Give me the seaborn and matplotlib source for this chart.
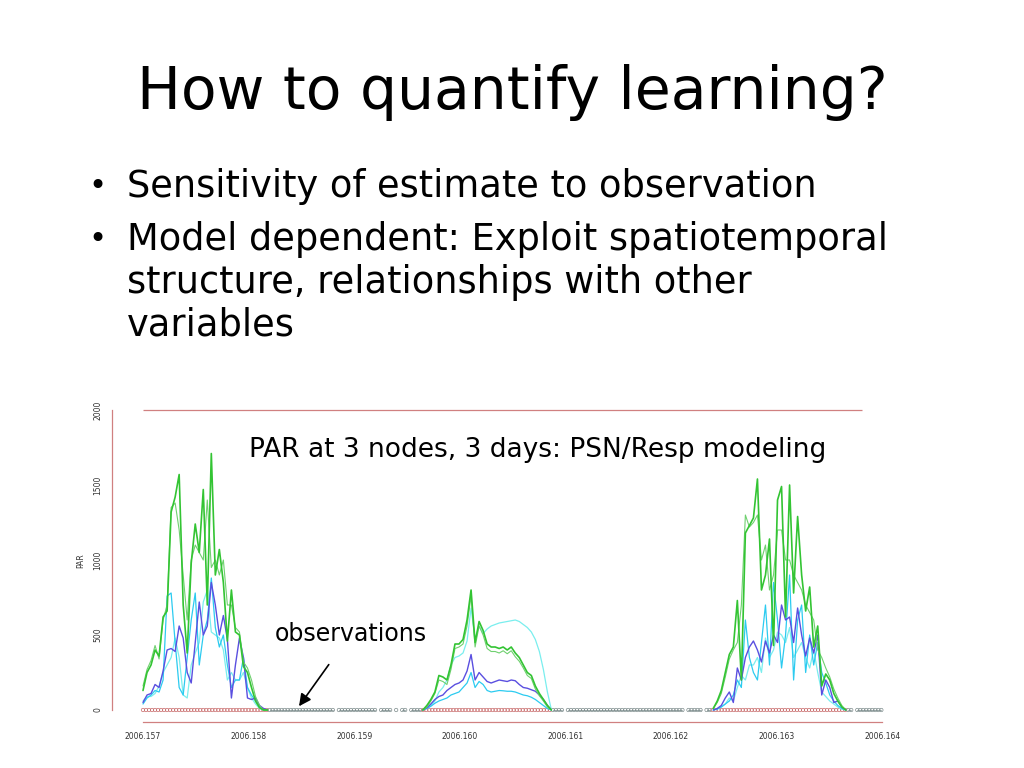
"""Slide: How to quantify learning? -- PAR at 3 nodes over 3 days."""
import matplotlib
matplotlib.use("Agg")
import matplotlib.pyplot as plt
import numpy as np
import pandas as pd
import seaborn as sns

# ---- data ----
STEP = 1 / (365 * 72)          # 20 min, in decimal years
OBS_STEP = 1 / (365 * 96)      # 15 min
DAY_START = [2006.157, 2006.15965, 2006.1624]

G1 = [
    [130, 250, 300, 400, 360, 620, 660, 1320, 1420, 1570, 700, 380, 980, 1240, 1050, 1470,
     700, 1710, 900, 1070, 850, 460, 800, 520, 500, 290, 250, 150, 60, 15, 0, 0],
    [0, 30, 70, 120, 230, 220, 200, 300, 440, 440, 470, 600, 800, 450, 590, 530, 440,
     420, 420, 410, 420, 400, 420, 380, 350, 300, 250, 230, 160, 110, 70, 30, 0],
    [10, 60, 130, 250, 370, 420, 730, 200, 1180, 1230, 1280, 1540, 800, 900, 1140, 430,
     1400, 1490, 620, 1500, 780, 1290, 900, 660, 820, 420, 560, 160, 240, 200, 110, 60, 20, 0],
]
G2 = [
    [160, 270, 330, 430, 340, 600, 700, 1350, 1380, 1200, 900, 600, 1000, 1100, 1050, 1000,
     1400, 950, 1000, 900, 1000, 700, 700, 550, 520, 320, 280, 200, 90, 30, 0, 0],
    [0, 20, 60, 110, 200, 190, 170, 270, 410, 420, 440, 560, 760, 420, 560, 500, 410,
     390, 390, 380, 395, 375, 395, 355, 325, 280, 230, 210, 140, 95, 60, 20, 0],
    [10, 50, 110, 220, 340, 400, 450, 700, 1300, 1220, 1250, 1300, 1000, 1100, 800, 900,
     1200, 1200, 1000, 1000, 900, 850, 800, 700, 650, 600, 400, 350, 280, 220, 140, 80, 30, 0],
]
BLUE = [
    [50, 100, 110, 170, 150, 260, 400, 410, 390, 560, 480, 250, 180, 450, 720, 500,
     560, 850, 700, 500, 630, 470, 80, 300, 480, 350, 80, 70, 80, 30, 10, 0],
    [0, 15, 40, 70, 90, 100, 130, 150, 170, 180, 200, 260, 370, 200, 250, 220, 190,
     180, 190, 200, 195, 190, 200, 195, 170, 150, 145, 135, 125, 100, 70, 30, 0],
    [0, 10, 30, 80, 120, 50, 280, 200, 350, 420, 460, 400, 320, 460, 380, 500, 450,
     700, 600, 620, 450, 680, 500, 360, 480, 380, 500, 100, 200, 150, 50, 60, 20, 0],
]
CYAN1 = [
    [40, 80, 100, 130, 120, 200, 760, 780, 450, 150, 100, 350, 600, 780, 300, 500,
     600, 880, 550, 420, 500, 300, 150, 200, 200, 350, 150, 100, 60, 20, 0, 0],
    [0, 10, 25, 45, 60, 70, 80, 100, 110, 120, 150, 180, 250, 150, 190, 170, 130,
     120, 125, 130, 128, 125, 125, 120, 110, 100, 95, 85, 70, 50, 30, 10, 0],
    [0, 5, 20, 40, 60, 100, 200, 150, 600, 350, 250, 200, 450, 700, 300, 850, 600,
     280, 500, 900, 200, 600, 700, 250, 500, 300, 450, 250, 180, 100, 60, 30, 10, 0],
]
CYAN2 = [
    [60, 90, 90, 110, 160, 250, 300, 350, 480, 350, 100, 80, 300, 380, 450, 720,
     800, 520, 500, 480, 400, 200, 250, 200, 200, 250, 150, 80, 40, 10, 0, 0],
    [0, 10, 30, 60, 120, 150, 200, 300, 350, 360, 380, 460, 680, 470, 560, 510, 540,
     560, 570, 580, 585, 590, 595, 600, 590, 570, 550, 520, 470, 390, 270, 120, 0],
    [0, 10, 20, 40, 80, 60, 150, 230, 200, 300, 300, 350, 250, 480, 350, 400, 520,
     500, 450, 550, 350, 400, 450, 350, 280, 400, 250, 120, 90, 60, 40, 20, 5, 0],
]
SERIES = {"cyan2": CYAN2, "cyan1": CYAN1, "blue": BLUE, "g2": G2, "g1": G1}
COLORS = {"cyan2": "#7aeeee", "cyan1": "#2ccbf0", "blue": "#5a4fe0",
          "g2": "#6fd06f", "g1": "#33c433"}
WIDTHS = {"cyan2": 0.9, "cyan1": 0.9, "blue": 1.0, "g2": 0.8, "g1": 1.2}

OBS_RANGE = (2006.157, 2006.164)
OBS_MISSING = [2006.158818, 2006.159225, 2006.159358, 2006.159434, 2006.159500,
               2006.160996, 2006.162133, 2006.162303, 2006.163723]
TOP_LINE = (2000, 2006.157, 2006.16381)

XTICKS = [2006.157, 2006.158, 2006.159, 2006.160, 2006.161, 2006.162, 2006.163, 2006.164]
YTICKS = [0, 500, 1000, 1500, 2000]

TITLE = "How to quantify learning?"
BULLETS = [
    ("•", "Sensitivity of estimate to observation", 0.757),
    ("•", "Model dependent: Exploit spatiotemporal", 0.688),
    ("", "structure, relationships with other", 0.632),
    ("", "variables", 0.577),
]

# ---- build long frames ----
rows = []
for name, days in SERIES.items():
    for d, vals in enumerate(days):
        for i, v in enumerate(vals):
            rows.append((name, d, DAY_START[d] + i * STEP, v))
df = pd.DataFrame(rows, columns=["series", "day", "t", "par"])

obs_t = np.arange(OBS_RANGE[0], OBS_RANGE[1] + OBS_STEP / 2, OBS_STEP)
keep = np.ones(len(obs_t), bool)
for m in OBS_MISSING:
    keep[np.argmin(np.abs(obs_t - m))] = False
day_end = {d: DAY_START[d] + (len(G1[d]) - 1) * STEP for d in range(3)}
is_day = np.zeros(len(obs_t), bool)
for d in range(3):
    is_day |= (obs_t >= DAY_START[d] - STEP / 2) & (obs_t <= day_end[d])
obs = pd.DataFrame({"t": obs_t, "par": np.zeros(len(obs_t)), "keep": keep, "day": is_day})

# ---- figure ----
sns.set_style("white")
plt.rcParams["font.family"] = ["DejaVu Sans"]
plt.rcParams["text.color"] = "black"
fig = plt.figure(figsize=(10.24, 7.68), dpi=100)
fig.patch.set_facecolor("white")

fig.text(0.5, 0.880, TITLE, ha="center", va="center", fontsize=42, color="black")
for bullet, line, y in BULLETS:
    if bullet:
        fig.text(0.086, y, bullet, ha="left", va="center", fontsize=22, color="black")
    fig.text(0.124, y, line, ha="left", va="center", fontsize=26.5, color="black")

ax = fig.add_axes([112 / 1024, 1 - 722 / 768, 788 / 1024, 322 / 768])
ax.set_facecolor("white")

# night observations: gray line with gaps, then all markers
night = obs.copy()
night.loc[~night["keep"] | night["day"], "par"] = np.nan
ax.plot(night["t"], night["par"], color="#8a9a9a", lw=0.6, zorder=2)
sns.scatterplot(data=obs[obs["keep"] & ~obs["day"]], x="t", y="par", ax=ax,
                marker="o", s=6, facecolor="none", edgecolor="#7d8c8c",
                linewidth=0.5, zorder=3, legend=False)
sns.scatterplot(data=obs[obs["keep"] & obs["day"]], x="t", y="par", ax=ax,
                marker="o", s=6, facecolor="none", edgecolor="#c86a6a",
                linewidth=0.5, zorder=3, legend=False)

for name in SERIES:
    sns.lineplot(data=df[df["series"] == name], x="t", y="par", units="day",
                 estimator=None, color=COLORS[name], lw=WIDTHS[name], ax=ax,
                 zorder=4, legend=False)

ax.hlines(TOP_LINE[0], TOP_LINE[1], TOP_LINE[2], color="#d08080", lw=0.9)

ax.set_xlim(2006.157 - 31 / 105600, 2006.157 + 757 / 105600)
ax.set_ylim(-80, 2066.7)
ax.set_xticks(XTICKS)
ax.set_xticklabels([f"{x:.3f}" for x in XTICKS], fontsize=5.5, color="#333333")
ax.set_yticks(YTICKS)
ax.set_yticklabels([str(y) for y in YTICKS], fontsize=5.5, color="#333333",
                   rotation=90, va="center")
ax.set_xlabel("")
ax.set_ylabel("PAR", fontsize=5.5, color="#333333", labelpad=6)
for s in ("top", "right"):
    ax.spines[s].set_visible(False)
ax.spines["left"].set_bounds(0, 2000)
ax.spines["bottom"].set_bounds(XTICKS[0], XTICKS[-1])
for s in ("left", "bottom"):
    ax.spines[s].set_color("#d08080")
    ax.spines[s].set_linewidth(0.9)
ax.tick_params(axis="both", direction="out", length=4, width=0.9, color="#d08080",
               pad=3)

fig.text(538 / 1024, 1 - 450 / 768, "PAR at 3 nodes, 3 days: PSN/Resp modeling",
         fontsize=19, ha="center", va="center", color="black")
ax.annotate("observations", xy=(2006.157 + 156 / 105600, 25),
            xytext=(2006.157 + 208 / 105600, 510), fontsize=17,
            ha="center", va="center", color="black",
            arrowprops=dict(arrowstyle="-|>", color="black", lw=1.2,
                            mutation_scale=18, shrinkA=14, shrinkB=0))

fig.savefig("out.png", dpi=100)
